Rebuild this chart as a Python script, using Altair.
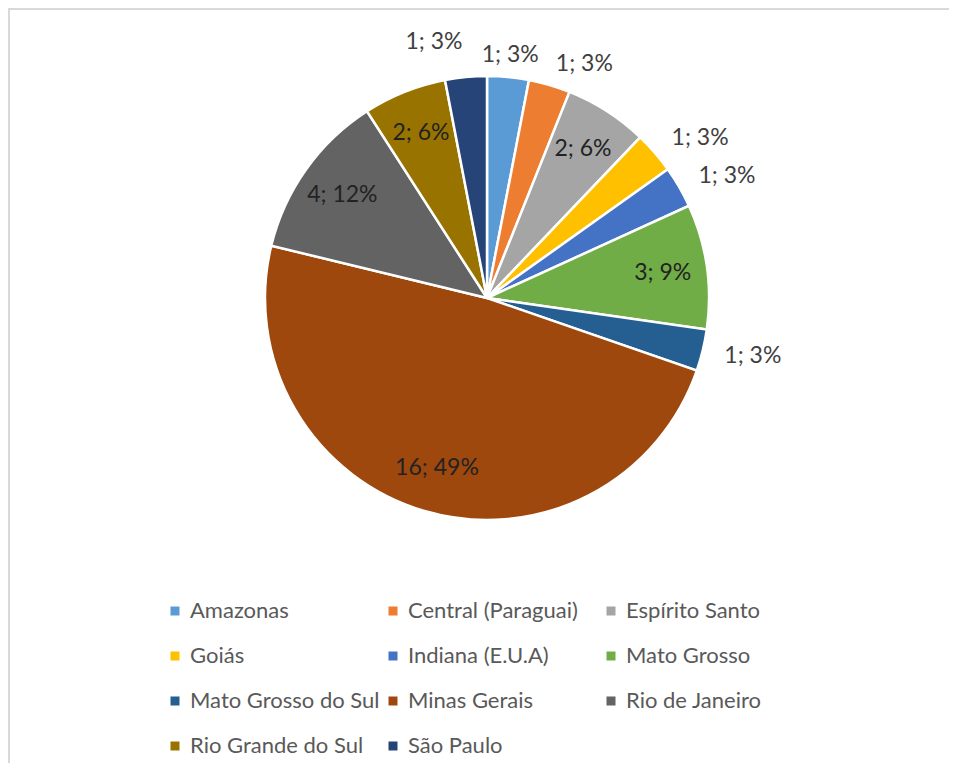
import altair as alt
import pandas as pd

categories = ["Amazonas", "Central (Paraguai)", "Espírito Santo", "Goiás",
              "Indiana (E.U.A)", "Mato Grosso", "Mato Grosso do Sul",
              "Minas Gerais", "Rio de Janeiro", "Rio Grande do Sul", "São Paulo"]
counts = [1, 1, 2, 1, 1, 3, 1, 16, 4, 2, 1]
percents = [3, 3, 6, 3, 3, 9, 3, 49, 12, 6, 3]
colors = ["#5B9BD5", "#ED7D31", "#A5A5A5", "#FFC000", "#4472C4", "#70AD47",
          "#255E91", "#9E480E", "#636363", "#997300", "#264478"]

FONT = "Lato"
W, H = 941, 755
R = 222
CX, CY = 479, 290
TOTAL = sum(counts)

df = pd.DataFrame({
    "cat": categories,
    "n": counts,
    "pct": percents,
    "idx": list(range(len(categories))),
})
df["label"] = [f"{n}; {p}%" for n, p in zip(counts, percents)]

theta_scale = alt.Scale(domain=[0, TOTAL])

pie = alt.Chart(df).mark_arc(radius=R, stroke="white", strokeWidth=2.5).encode(
    theta=alt.Theta("n:Q", stack=True, scale=theta_scale),
    order=alt.Order("idx:Q"),
    x=alt.value(CX),
    y=alt.value(CY),
    color=alt.Color(
        "cat:N",
        sort=categories,
        scale=alt.Scale(domain=categories, range=colors),
        legend=alt.Legend(
            title=None,
            orient="none",
            legendX=156,
            legendY=592,
            columns=3,
            direction="horizontal",
            gridAlign="all",
            symbolType="square",
            symbolSize=81,
            symbolStrokeWidth=0,
            labelFont=FONT,
            labelFontSize=22,
            labelColor="#595959",
            labelOffset=4,
            labelLimit=400,
            columnPadding=2,
            rowPadding=23,
            padding=0,
        ),
    ),
)

lab_base = (
    alt.Chart(df)
    .transform_window(cum="sum(n)", sort=[alt.SortField("idx")], frame=[None, 0])
    .transform_calculate(mid="datum.cum - datum.n / 2")
    .transform_calculate(ang=f"datum.mid / {TOTAL} * 360")
)


def text_layer(cond, align, radius, color):
    return lab_base.transform_filter(cond).mark_text(
        font=FONT, fontSize=23, color=color, align=align, baseline="middle"
    ).encode(
        theta=alt.Theta("mid:Q", stack=False, scale=theta_scale),
        x=alt.value(CX),
        y=alt.value(CY),
        radius=alt.value(radius),
        text="label:N",
    )


inside = text_layer("datum.n >= 2", "center", R * 0.8, "#222222")
out_c = text_layer("datum.n < 2 && datum.ang < 12", "center", R * 1.1, "#404040")
out_l = text_layer("datum.n < 2 && datum.ang >= 12 && datum.ang < 180", "left", R * 1.1, "#404040")
out_r = text_layer("datum.n < 2 && datum.ang >= 180", "right", R * 1.16, "#404040")

border_df = pd.DataFrame({"a": [0]})
top_line = alt.Chart(border_df).mark_rule(color="#d9d9d9", strokeWidth=2).encode(
    x=alt.value(0), x2=alt.value(W), y=alt.value(1)
)
left_line = alt.Chart(border_df).mark_rule(color="#d9d9d9", strokeWidth=2).encode(
    x=alt.value(1), y=alt.value(0), y2=alt.value(H)
)

chart = alt.layer(top_line, left_line, pie, inside, out_c, out_l, out_r).properties(
    width=W, height=H, padding=0, autosize=alt.AutoSizeParams(type="none")
).configure_view(stroke="transparent", strokeWidth=0)

chart.save("out.html", embed_options={"renderer": "svg", "actions": False})
